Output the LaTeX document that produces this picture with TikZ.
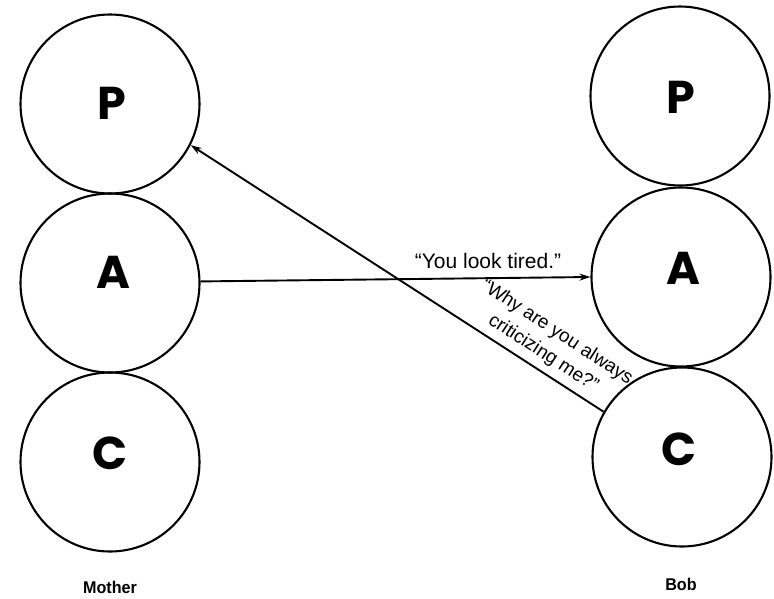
\documentclass[tikz,border=0pt]{standalone}
\usepackage{fontspec}
\setmainfont{Liberation Sans}
\newfontfamily\egofont{Poppins}
\newfontfamily\namefont{Liberation Sans}[FakeStretch=0.95]
\usetikzlibrary{arrows.meta}

\tikzset{
  ego/.style={circle, draw, line width=2.1pt, minimum size=179pt, inner sep=0pt},
  egoletter/.style={font=\egofont\bfseries\fontsize{46}{46}\selectfont, inner sep=0pt},
  person/.style={font=\namefont\bfseries\fontsize{17}{20}\selectfont, inner sep=0pt},
  speech/.style={font=\fontsize{21}{24}\selectfont, inner sep=0pt},
  reply/.style={font=\fontsize{19}{25}\selectfont, inner sep=0pt, align=center},
  msg/.style={line width=1.9pt, -{Stealth[length=11pt,width=7pt]}},
}

\begin{document}
\begin{tikzpicture}[x=1pt, y=-1pt]
  \useasboundingbox (0,0) rectangle (774,598);

  % Mother's ego states
  \node[ego] (lP) at (110,104) {};
  \node[ego] (lA) at (110,283) {};
  \node[ego] (lC) at (110,462) {};
  \node[egoletter] (lPt) at (112,103) {P};
  \node[egoletter] (lAt) at (113,272) {A};
  \node[egoletter] (lCt) at (110,453) {C};

  % Bob's ego states
  \node[ego] (rP) at (680,96) {};
  \node[ego] (rA) at (681,277) {};
  \node[ego] (rC) at (682,457) {};
  \node[egoletter] (rPt) at (681,97) {P};
  \node[egoletter] (rAt) at (683,268) {A};
  \node[egoletter] (rCt) at (679,449) {C};

  % names
  \node[person] (mother) at (110,587) {Mother};
  \node[person] (bob) at (681,584) {Bob};

  % stimulus: Adult to Adult
  \draw[msg] (lA.1) -- (rA.180.5);
  \node[speech] (stim) at (488,261) {“You look tired.”};

  % response: Child to Parent
  \draw[msg] (rC.150.9) -- (lP.-27.7);
  \node[reply, rotate=-33] (resp) at (550,343) {“Why are you always\\criticizing me?”};
\end{tikzpicture}
\end{document}
